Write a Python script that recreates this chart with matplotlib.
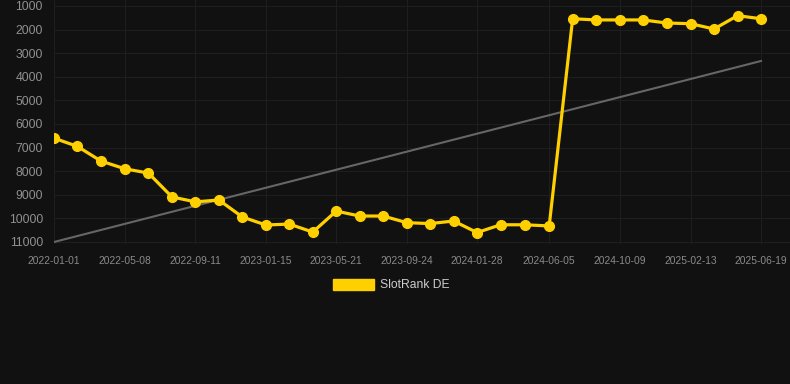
import matplotlib.pyplot as plt
import matplotlib.dates as mdates
import numpy as np
import pandas as pd

plt.rcParams['font.family'] = ['Liberation Sans', 'DejaVu Sans']

# dates of the points (about 6 weeks apart)
dates = pd.to_datetime([
    "2022-01-01", "2022-02-12", "2022-03-26", "2022-05-08", "2022-06-19",
    "2022-07-31", "2022-09-11", "2022-10-23", "2022-12-04", "2023-01-15",
    "2023-02-26", "2023-04-09", "2023-05-21", "2023-07-02", "2023-08-13",
    "2023-09-24", "2023-11-05", "2023-12-17", "2024-01-28", "2024-03-10",
    "2024-04-22", "2024-06-05", "2024-07-17", "2024-08-28", "2024-10-09",
    "2024-11-20", "2025-01-01", "2025-02-13", "2025-03-27", "2025-05-08",
    "2025-06-19",
])
rank = [6600, 6950, 7570, 7900, 8080, 9090, 9300, 9220, 9940, 10280,
        10240, 10580, 9690, 9900, 9900, 10180, 10220, 10110, 10600, 10270,
        10270, 10320, 1540, 1590, 1590, 1590, 1720, 1750, 1975, 1410, 1540]
trend_dates = pd.to_datetime(["2022-01-01", "2025-06-19"])
trend = [11000, 3330]

tick_dates = pd.to_datetime([
    "2022-01-01", "2022-05-08", "2022-09-11", "2023-01-15", "2023-05-21",
    "2023-09-24", "2024-01-28", "2024-06-05", "2024-10-09", "2025-02-13",
    "2025-06-19",
])
yticks = [1000, 2000, 3000, 4000, 5000, 6000, 7000, 8000, 9000, 10000, 11000]

bg = "#111111"
yellow = "#FFD000"

fig = plt.figure(figsize=(7.9, 3.84), dpi=100, facecolor=bg)
ax = fig.add_axes([54 / 790, (384 - 244) / 384, 736 / 790, 244 / 384])
ax.set_facecolor(bg)

ax.plot(trend_dates, trend, color="#666666", lw=1.5, zorder=2)
ax.plot(dates, rank, color=yellow, lw=2.3, marker="o", ms=7, zorder=3)

# x range: first point at left edge, last point 29px before right edge
d0 = mdates.date2num(dates[0])
d1 = mdates.date2num(dates[-1])
ax.set_xlim(d0, d1 + (d1 - d0) * 29 / 707)
ax.set_ylim(11000 + 2 / 23.6 * 1000, 1000 - 6 / 23.6 * 1000)

ax.set_xticks(tick_dates)
ax.xaxis.set_major_formatter(mdates.DateFormatter("%Y-%m-%d"))
ax.set_yticks(yticks)
ax.tick_params(axis="x", colors="#8a8a8a", labelsize=7.4, length=0, pad=9)
ax.tick_params(axis="y", colors="#909090", labelsize=8.8, length=0, pad=8)
ax.grid(True, color="#1e1e1e", lw=0.8)
for s in ax.spines.values():
    s.set_visible(False)

leg = ax.legend(
    [plt.Rectangle((0, 0), 1, 1, color=yellow)], ["SlotRank DE"],
    loc="center", bbox_to_anchor=(391 / 790, 1 - 285 / 384),
    bbox_transform=fig.transFigure, frameon=False, fontsize=8.7,
    handlelength=3.4, handleheight=1.0, handletextpad=0.5,
)
for t in leg.get_texts():
    t.set_color("#cccccc")

fig.savefig("out.png", dpi=100, facecolor=bg)
